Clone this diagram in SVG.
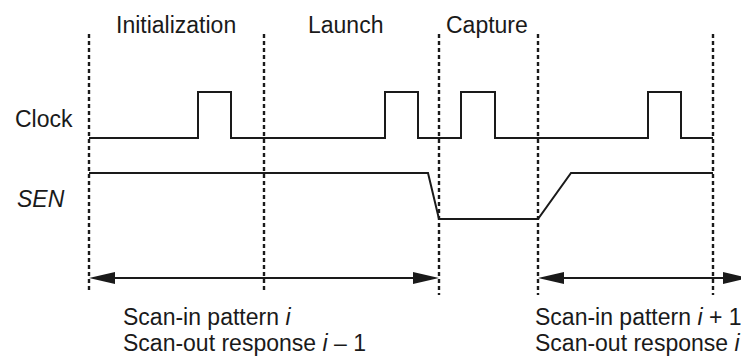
<svg xmlns="http://www.w3.org/2000/svg" width="741" height="358" viewBox="0 0 741 358">
<style>
text{font-family:"Liberation Sans",Arial,Helvetica,sans-serif;font-size:23px;fill:#1a1a1a}
.it{font-style:italic}
.dash{stroke:#1a1a1a;stroke-width:2.4;stroke-dasharray:4 3;fill:none}
.wave{stroke:#1a1a1a;stroke-width:2;fill:none;stroke-linejoin:miter}
.arr{stroke:#1a1a1a;stroke-width:2.2;fill:none}
.head{fill:#1a1a1a}
</style>
<rect width="741" height="358" fill="#fff"/>
<g id="phase-labels">
<text x="116" y="33">Initialization</text>
<text x="308" y="33">Launch</text>
<text x="446" y="33">Capture</text>
</g>
<g id="signal-labels">
<text x="15" y="127">Clock</text>
<text x="17" y="207" class="it">SEN</text>
</g>
<g id="dividers">
<line class="dash" x1="89" y1="34" x2="89" y2="290"/>
<line class="dash" x1="264" y1="34" x2="264" y2="290"/>
<line class="dash" x1="439" y1="34" x2="439" y2="295"/>
<line class="dash" x1="538" y1="34" x2="538" y2="295"/>
<line class="dash" x1="713" y1="34" x2="713" y2="295"/>
</g>
<g id="clock">
<polyline class="wave" points="89,138 198,138 198,92 231,92 231,138 385,138 385,92 418,92 418,138 461,138 461,92 495,92 495,138 648,138 648,92 681,92 681,138 713,138"/>
</g>
<g id="sen">
<polyline class="wave" points="89,173 428,173 439,219 538,219 571,173 713,173"/>
</g>
<g id="connectors">
<g id="scan-i">
<line class="arr" x1="105" y1="278" x2="423" y2="278"/>
<polygon class="head" points="89,278 115,272 115,284"/>
<polygon class="head" points="439,278 413,272 413,284"/>
</g>
<g id="scan-i1">
<line class="arr" x1="554" y1="278" x2="735" y2="278"/>
<polygon class="head" points="538,278 564,272 564,284"/>
<polygon class="head" points="749,278 723,272 723,284"/>
</g>
</g>
<g id="scan-labels">
<text x="123" y="325">Scan-in pattern <tspan class="it">i</tspan></text>
<text x="123" y="351">Scan-out response <tspan class="it">i</tspan> – 1</text>
<text x="535" y="325">Scan-in pattern <tspan class="it">i</tspan> + 1</text>
<text x="535" y="351">Scan-out response <tspan class="it">i</tspan></text>
</g>
</svg>
